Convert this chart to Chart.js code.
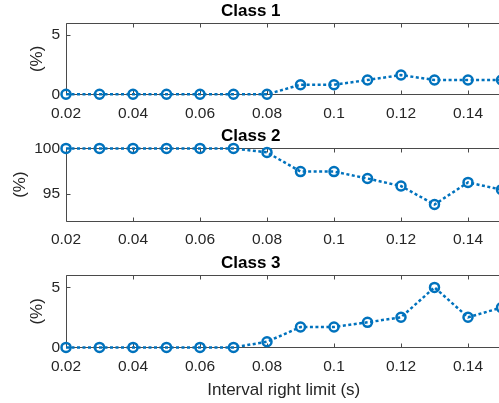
<!DOCTYPE html>
<html>
<head>
<meta charset="utf-8">
<script src="https://cdn.jsdelivr.net/npm/chart.js@4.4.1/dist/chart.umd.min.js"></script>
<style>
  html, body { margin: 0; padding: 0; background: #fff; overflow: hidden; }
  #wrap { position: relative; width: 499px; height: 403px; overflow: hidden; }
  canvas { position: absolute; left: 0; }
</style>
</head>
<body>
<div id="wrap">
  <canvas id="c1" width="510" height="125" style="top:0px"></canvas>
  <canvas id="c2" width="510" height="126" style="top:125px"></canvas>
  <canvas id="c3" width="510" height="151" style="top:252px"></canvas>
</div>
<script>
// ===== Data =====
const xValues = [0.02, 0.03, 0.04, 0.05, 0.06, 0.07, 0.08, 0.09, 0.10, 0.11, 0.12, 0.13, 0.14, 0.15];
const class1 = [0, 0, 0, 0, 0, 0, 0, 0.81, 0.81, 1.21, 1.63, 1.21, 1.21, 1.21];
const class2 = [100, 100, 100, 100, 100, 100, 99.56, 97.44, 97.44, 96.67, 95.84, 93.8, 96.24, 95.44];
const class3 = [0, 0, 0, 0, 0, 0, 0.47, 1.70, 1.70, 2.09, 2.51, 5.0, 2.51, 3.32];

const xTicks = [0.02, 0.04, 0.06, 0.08, 0.1, 0.12, 0.14];
const yTicks1 = [0, 5];
const yTicks2 = [95, 100];
const yTicks3 = [0, 5];

const FONT = "'Liberation Sans', Arial, Helvetica, sans-serif";
const TEXT = "#262626";
const AXIS = "#4a4a4a";
const BLUE = "#0072BD";

// ===== Box + inward ticks (MATLAB look) =====
const framePlugin = {
    id: "frame",
    beforeDatasetsDraw(chart) {
        const { ctx, chartArea: a, scales: { x, y } } = chart;
        const L = Math.round(a.left) + 0.5;
        const T = Math.round(a.top) + 0.5;
        const B = Math.round(a.bottom) + 0.5;
        const R = a.right + 10;
        ctx.save();
        ctx.strokeStyle = AXIS;
        ctx.lineWidth = 1;
        ctx.beginPath();
        ctx.moveTo(R, T); ctx.lineTo(L, T); ctx.lineTo(L, B); ctx.lineTo(R, B);
        x.ticks.forEach(t => {
            const px = Math.round(x.getPixelForValue(t.value)) + 0.5;
            ctx.moveTo(px, B); ctx.lineTo(px, B - 4);
            ctx.moveTo(px, T); ctx.lineTo(px, T + 4);
        });
        y.ticks.forEach(t => {
            const py = Math.round(y.getPixelForValue(t.value)) + 0.5;
            ctx.moveTo(L, py); ctx.lineTo(L + 4, py);
        });
        ctx.stroke();
        ctx.restore();
    }
};

function makeChart(id, title, values, yMin, yMax, yTicks, yTitlePad, xHeight, showXTitle) {
    new Chart(document.getElementById(id), {
        type: "line",
        data: {
            datasets: [{
                data: xValues.map((v, i) => ({ x: v, y: values[i] })),
                borderColor: BLUE,
                borderWidth: 2.5,
                borderDash: [3, 2.5],
                pointRadius: 4.5,
                pointBorderWidth: 2.5,
                pointBorderColor: BLUE,
                pointBackgroundColor: "rgba(255,255,255,0)",
                tension: 0,
                clip: false
            }]
        },
        options: {
            responsive: false,
            animation: false,
            events: [],
            layout: { padding: { left: 0, right: 8.5, top: 0, bottom: 0 } },
            plugins: {
                legend: { display: false },
                tooltip: { enabled: false },
                title: {
                    display: true,
                    text: title,
                    color: "#000",
                    font: { family: FONT, size: 17, weight: "bold" },
                    padding: { top: 1.5, bottom: 1.5 }
                }
            },
            scales: {
                x: {
                    type: "linear",
                    min: 0.02,
                    max: 0.15,
                    afterBuildTicks: s => { s.ticks = xTicks.map(v => ({ value: v })); },
                    afterFit: s => { s.height = xHeight; },
                    grid: { display: false, drawTicks: false },
                    border: { display: false },
                    ticks: {
                        color: TEXT,
                        padding: 10,
                        font: { family: FONT, size: 15.5 },
                        callback: v => String(+v.toFixed(2))
                    },
                    title: {
                        display: showXTitle,
                        text: "Interval right limit (s)",
                        color: TEXT,
                        font: { family: FONT, size: 17 },
                        padding: { top: 0, bottom: 2.5 }
                    }
                },
                y: {
                    min: yMin,
                    max: yMax,
                    afterBuildTicks: s => { s.ticks = yTicks.map(v => ({ value: v })); },
                    afterFit: s => { s.width = 66; },
                    grid: { display: false, drawTicks: false },
                    border: { display: false },
                    ticks: {
                        color: TEXT,
                        padding: 6,
                        font: { family: FONT, size: 15.5 }
                    },
                    title: {
                        display: true,
                        text: "(%)",
                        color: TEXT,
                        font: { family: FONT, size: 17 },
                        padding: { top: yTitlePad, bottom: 0 }
                    }
                }
            }
        },
        plugins: [framePlugin]
    });
}

makeChart("c1", "Class 1", class1, 0, 6, yTicks1, 27, 30.7, false);
makeChart("c2", "Class 2", class2, 92, 100, yTicks2, 10, 30.2, false);
makeChart("c3", "Class 3", class3, 0, 6, yTicks3, 27, 55.6, true);
</script>
</body>
</html>
